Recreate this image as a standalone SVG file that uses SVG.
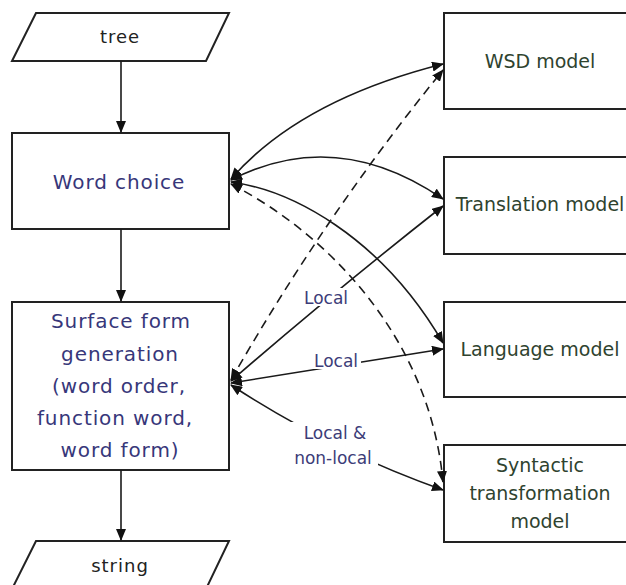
<svg xmlns="http://www.w3.org/2000/svg" width="626" height="585" viewBox="0 0 626 585">
<style>
.box{fill:#fff;stroke:#222;stroke-width:2}
.ln{fill:none;stroke:#1a1a1a;stroke-width:1.6}
.dash{stroke-dasharray:9 6}
.t{font-family:"DejaVu Sans",sans-serif;text-anchor:middle}
.blk{fill:#222;font-size:18px}
.blue{fill:#37377a;font-size:20px;letter-spacing:0.9px}
.grn{fill:#2f432f;font-size:19px}
.lbl{fill:#3c3c78;font-size:17px}
</style>
<defs>
<marker id="ah" viewBox="0 0 12 10" refX="11" refY="5" markerWidth="12" markerHeight="10" markerUnits="userSpaceOnUse" orient="auto-start-reverse">
<path d="M0,0 L12,5 L0,10 Z" fill="#111"/>
</marker>
</defs>
<rect width="626" height="585" fill="#fff"/>

<g id="tree">
<polygon class="box" points="36,13 229,13 206,61 12,61"/>
<text class="t blk" x="120" y="43" letter-spacing="1">tree</text>
</g>
<g id="word-choice">
<rect class="box" x="12" y="133" width="217" height="96"/>
<text class="t blue" x="119" y="189" font-size="21">Word choice</text>
</g>
<g id="surface-form">
<rect class="box" x="12" y="302" width="217" height="168"/>
<text class="t blue" x="121" y="328">Surface form</text>
<text class="t blue" x="120" y="361">generation</text>
<text class="t blue" x="119" y="393">(word order,</text>
<text class="t blue" x="115" y="425">function word,</text>
<text class="t blue" x="120" y="457">word form)</text>
</g>
<g id="string">
<polygon class="box" points="36,541 229,541 206,589 12,589"/>
<text class="t blk" x="120" y="572" letter-spacing="1">string</text>
</g>
<g id="wsd-model">
<rect class="box" x="444" y="13" width="200" height="96"/>
<text class="t grn" x="540" y="68">WSD model</text>
</g>
<g id="translation-model">
<rect class="box" x="444" y="157" width="200" height="97"/>
<text class="t grn" x="540" y="211">Translation model</text>
</g>
<g id="language-model">
<rect class="box" x="444" y="302" width="200" height="95"/>
<text class="t grn" x="540" y="356">Language model</text>
</g>
<g id="syntactic-model">
<rect class="box" x="444" y="445" width="200" height="97"/>
<text class="t grn" x="540" y="472">Syntactic</text>
<text class="t grn" x="540" y="500">transformation</text>
<text class="t grn" x="540" y="528">model</text>
</g>

<g id="connectors">
<line class="ln" x1="121" y1="61" x2="121" y2="132" marker-end="url(#ah)"/>
<line class="ln" x1="121" y1="229" x2="121" y2="301" marker-end="url(#ah)"/>
<line class="ln" x1="121" y1="470" x2="121" y2="540" marker-end="url(#ah)"/>

<path class="ln" d="M231,179 Q300,100 443,64" marker-start="url(#ah)" marker-end="url(#ah)"/>
<path class="ln" d="M231,180 Q336,126 443,199" marker-start="url(#ah)" marker-end="url(#ah)"/>
<path class="ln" d="M231,182 C290,190 380,235 443,343" marker-start="url(#ah)" marker-end="url(#ah)"/>
<path class="ln dash" d="M231,184 C330,235 430,340 443,482" marker-start="url(#ah)" marker-end="url(#ah)"/>

<path class="ln dash" d="M231,380 Q325,215 443,70" marker-start="url(#ah)" marker-end="url(#ah)"/>
<path class="ln" d="M231,381 Q330,295 443,206" marker-start="url(#ah)" marker-end="url(#ah)"/>
<line class="ln" x1="231" y1="383" x2="443" y2="349" marker-start="url(#ah)" marker-end="url(#ah)"/>
<path class="ln" d="M231,385 Q330,450 443,490" marker-start="url(#ah)" marker-end="url(#ah)"/>

<rect x="302" y="288" width="48" height="18" fill="#fff"/>
<text class="t lbl" x="326" y="304">Local</text>
<rect x="311" y="351" width="50" height="18" fill="#fff"/>
<text class="t lbl" x="336" y="367">Local</text>
<rect x="290" y="422" width="88" height="46" fill="#fff"/>
<text class="t lbl" x="335" y="439">Local &amp;</text>
<text class="t lbl" x="333" y="464">non-local</text>
</g>
</svg>
